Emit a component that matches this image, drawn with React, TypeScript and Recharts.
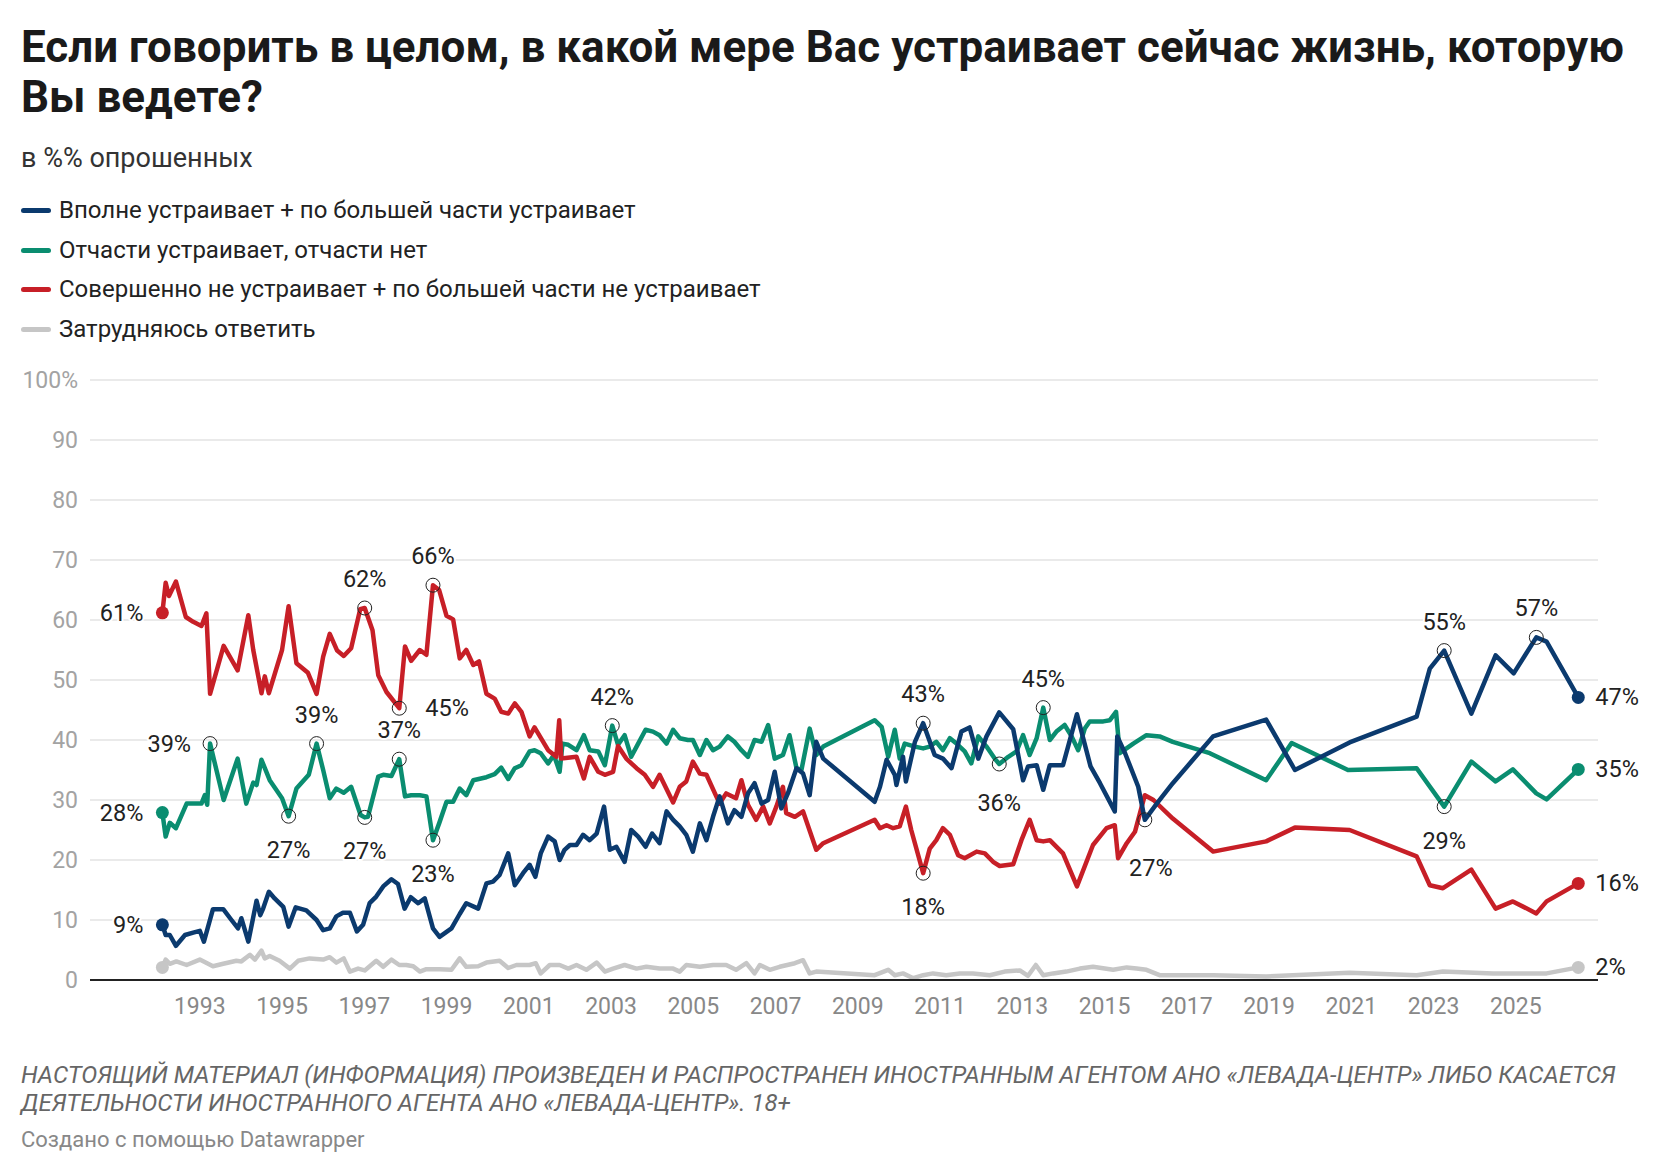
import React from "react";
import { LineChart, Line, XAxis, YAxis, CartesianGrid, ReferenceDot } from "recharts";

type Pt = [number, number];

const titleLines = [
  "Если говорить в целом, в какой мере Вас устраивает сейчас жизнь, которую",
  "Вы ведете?",
];
const subtitle = "в %% опрошенных";
const seriesNames = [
  "Вполне устраивает + по большей части устраивает",
  "Отчасти устраивает, отчасти нет",
  "Совершенно не устраивает + по большей части не устраивает",
  "Затрудняюсь ответить",
];
const footerLines = [
  "НАСТОЯЩИЙ МАТЕРИАЛ (ИНФОРМАЦИЯ) ПРОИЗВЕДЕН И РАСПРОСТРАНЕН ИНОСТРАННЫМ АГЕНТОМ АНО «ЛЕВАДА-ЦЕНТР» ЛИБО КАСАЕТСЯ",
  "ДЕЯТЕЛЬНОСТИ ИНОСТРАННОГО АГЕНТА АНО «ЛЕВАДА-ЦЕНТР». 18+",
];
const credit = "Создано с помощью Datawrapper";

const yearTicks = [1993, 1995, 1997, 1999, 2001, 2003, 2005, 2007, 2009, 2011, 2013, 2015, 2017, 2019, 2021, 2023, 2025];
const valueTicks = [0, 10, 20, 30, 40, 50, 60, 70, 80, 90, 100];

// [year position, %]
const satisfied: Pt[] = [
  [1992.09, 9.2], [1992.17, 7.5], [1992.27, 7.5], [1992.42, 5.7], [1992.64, 7.5], [1992.84, 7.9],
  [1993.0, 8.2], [1993.1, 6.4], [1993.32, 11.8], [1993.57, 11.8], [1993.77, 10], [1993.93, 8.6],
  [1994.01, 10.3], [1994.18, 6.4], [1994.38, 13.2], [1994.47, 10.8], [1994.54, 11.9], [1994.68, 14.7],
  [1994.82, 13.6], [1995.03, 12.2], [1995.16, 8.9], [1995.33, 12.1], [1995.59, 11.6], [1995.84, 10],
  [1996.0, 8.3], [1996.16, 8.6], [1996.32, 10.6], [1996.48, 11.2], [1996.65, 11.2], [1996.82, 8.1],
  [1996.97, 9.2], [1997.13, 12.8], [1997.29, 13.9], [1997.46, 15.6], [1997.66, 16.8], [1997.82, 16],
  [1997.98, 11.9], [1998.13, 13.8], [1998.31, 12.8], [1998.47, 13.6], [1998.67, 8.6], [1998.83, 7.2],
  [1999.12, 8.6], [1999.32, 11], [1999.48, 12.8], [1999.77, 11.9], [1999.97, 16.1], [2000.13, 16.4],
  [2000.29, 17.5], [2000.5, 21.1], [2000.66, 15.8], [2000.86, 17.8], [2001.02, 19.2], [2001.16, 17.2],
  [2001.29, 21.1], [2001.47, 23.9], [2001.63, 23.1], [2001.75, 20], [2001.87, 21.7], [2002.0, 22.5],
  [2002.16, 22.5], [2002.32, 24.2], [2002.48, 23.3], [2002.65, 24.4], [2002.83, 28.9], [2002.97, 21.7],
  [2003.13, 22.2], [2003.33, 19.7], [2003.49, 25], [2003.66, 23.9], [2003.84, 22.2], [2004.0, 24.4],
  [2004.18, 22.8], [2004.35, 28.1], [2004.51, 26.7], [2004.67, 25.6], [2004.83, 24.2], [2004.99, 21.4],
  [2005.16, 26.1], [2005.32, 23.3], [2005.48, 27.2], [2005.64, 30.6], [2005.84, 26.1], [2006.0, 28.3],
  [2006.17, 27.2], [2006.33, 31.1], [2006.49, 32.8], [2006.66, 29.4], [2006.82, 30], [2006.98, 34.7],
  [2007.14, 28.6], [2007.3, 31.1], [2007.51, 35.3], [2007.67, 34.4], [2007.83, 30.8], [2007.99, 39.7],
  [2008.16, 36.9], [2009.41, 29.7], [2009.54, 32.2], [2009.7, 36.7], [2009.9, 34.2], [2009.94, 32.5],
  [2010.1, 37.2], [2010.17, 33.1], [2010.39, 39.7], [2010.59, 42.8], [2010.87, 37.5], [2011.07, 36.9],
  [2011.28, 35.3], [2011.52, 41.4], [2011.72, 42.1], [2011.93, 36.9], [2012.13, 40.6], [2012.44, 44.6],
  [2012.78, 41.8], [2013.02, 33.3], [2013.14, 35.6], [2013.35, 35.8], [2013.51, 31.7], [2013.67, 35.8],
  [2013.99, 35.8], [2014.33, 44.3], [2014.66, 35.6], [2014.89, 32.8], [2015.25, 28.1], [2015.31, 40.6],
  [2015.5, 37.8], [2015.82, 32.2], [2015.98, 26.7], [2016.27, 29.4], [2016.66, 32.8], [2017.15, 36.7],
  [2017.64, 40.6], [2018.93, 43.4], [2019.63, 35], [2020.96, 39.6], [2022.59, 43.9], [2022.91, 51.9],
  [2023.26, 54.9], [2023.92, 44.4], [2024.51, 54.1], [2024.95, 51.1], [2025.5, 57.1], [2025.75, 56.4],
  [2026.52, 47.1],
];

const partly: Pt[] = [
  [1992.09, 27.9], [1992.17, 23.9], [1992.27, 26.2], [1992.42, 25.3], [1992.68, 29.4], [1993.04, 29.4],
  [1993.12, 30.8], [1993.18, 29.2], [1993.25, 39.4], [1993.58, 30], [1993.92, 36.9], [1994.13, 29.4],
  [1994.3, 32.9], [1994.38, 32.5], [1994.5, 36.7], [1994.7, 33.3], [1995.0, 30.3], [1995.16, 27.3],
  [1995.35, 31.9], [1995.65, 34.2], [1995.84, 39.4], [1996.0, 35], [1996.16, 30.3], [1996.32, 31.9],
  [1996.5, 31.2], [1996.68, 32.2], [1996.91, 27.5], [1997.01, 27.1], [1997.09, 27.2], [1997.34, 33.9],
  [1997.46, 34.2], [1997.66, 34], [1997.85, 36.8], [1997.99, 30.6], [1998.14, 30.8], [1998.35, 30.8],
  [1998.51, 30.6], [1998.67, 23.3], [1998.82, 26.1], [1999.0, 29.7], [1999.16, 29.7], [1999.32, 31.9],
  [1999.48, 30.8], [1999.65, 33.3], [1999.97, 33.8], [2000.17, 34.3], [2000.33, 35.4], [2000.5, 33.5],
  [2000.66, 35.3], [2000.82, 35.8], [2001.02, 38.1], [2001.14, 38.3], [2001.29, 37.8], [2001.47, 36.1],
  [2001.61, 37.5], [2001.75, 34.7], [2001.82, 39.4], [2001.96, 39.2], [2002.16, 38.3], [2002.34, 40.8],
  [2002.48, 38.3], [2002.69, 38.1], [2002.85, 35.8], [2003.03, 42.4], [2003.17, 39.2], [2003.33, 40.8],
  [2003.49, 37.2], [2003.66, 39.4], [2003.84, 41.7], [2004.02, 41.4], [2004.18, 40.8], [2004.35, 39.4],
  [2004.51, 41.7], [2004.67, 40.3], [2004.87, 40], [2004.99, 40], [2005.16, 37.5], [2005.32, 40],
  [2005.48, 38.3], [2005.64, 38.9], [2005.84, 40.6], [2006.0, 39.7], [2006.17, 38.3], [2006.33, 37.2],
  [2006.49, 40], [2006.66, 39.7], [2006.82, 42.5], [2006.98, 36.9], [2007.18, 37.5], [2007.34, 40.8],
  [2007.51, 35.3], [2007.63, 35], [2007.83, 41.9], [2007.99, 37.5], [2008.16, 38.9], [2009.41, 43.3],
  [2009.58, 42.2], [2009.74, 37.2], [2009.9, 41.7], [2010.02, 36.9], [2010.14, 39.4], [2010.39, 38.9],
  [2010.59, 38.6], [2010.75, 38.9], [2010.91, 39.7], [2011.07, 38.3], [2011.24, 40.3], [2011.4, 39.4],
  [2011.6, 38.1], [2011.76, 36.1], [2011.93, 40.6], [2012.13, 38.9], [2012.33, 36.9], [2012.44, 36],
  [2012.66, 37.2], [2012.86, 38.1], [2013.02, 40.8], [2013.18, 37.5], [2013.35, 40.3], [2013.51, 45.4],
  [2013.67, 40], [2013.83, 41.4], [2014.03, 42.5], [2014.2, 40.6], [2014.36, 38.3], [2014.52, 41.9],
  [2014.64, 43.1], [2014.97, 43.1], [2015.13, 43.3], [2015.28, 44.7], [2015.37, 37.8], [2015.7, 39.4],
  [2016.02, 40.8], [2016.34, 40.6], [2016.66, 39.7], [2017.56, 37.8], [2018.93, 33.3], [2019.55, 39.5],
  [2020.92, 35], [2022.59, 35.3], [2023.26, 28.9], [2023.92, 36.4], [2024.51, 33.1], [2024.93, 35.1],
  [2025.5, 31.1], [2025.75, 30.1], [2026.52, 35.1],
];

const dissatisfied: Pt[] = [
  [1992.09, 61.2], [1992.17, 66.2], [1992.25, 64], [1992.42, 66.4], [1992.66, 60.5], [1992.84, 59.7],
  [1993.04, 59], [1993.16, 61.1], [1993.25, 47.7], [1993.58, 55.7], [1993.92, 51.6], [1994.18, 60.8],
  [1994.3, 55], [1994.5, 47.8], [1994.58, 50.6], [1994.68, 47.8], [1995.0, 55], [1995.16, 62.3],
  [1995.35, 52.8], [1995.63, 51.2], [1995.84, 47.7], [1996.0, 53.9], [1996.16, 57.7], [1996.34, 54.9],
  [1996.5, 54], [1996.68, 55.3], [1996.9, 61.8], [1997.01, 62], [1997.2, 58.3], [1997.34, 50.8],
  [1997.54, 48], [1997.85, 45.3], [1997.99, 55.6], [1998.14, 53.2], [1998.35, 55], [1998.51, 54.2],
  [1998.67, 65.8], [1998.82, 65], [1999.0, 60.7], [1999.16, 60.1], [1999.32, 53.6], [1999.48, 55],
  [1999.65, 52.5], [1999.79, 53.1], [1999.97, 47.7], [2000.17, 46.9], [2000.33, 44.7], [2000.5, 44.4],
  [2000.66, 46.1], [2000.82, 44.7], [2001.02, 40.6], [2001.14, 42.1], [2001.47, 38.3], [2001.67, 37.2],
  [2001.74, 43.3], [2001.79, 36.9], [2002.16, 37.2], [2002.34, 33.6], [2002.48, 37.2], [2002.69, 34.7],
  [2002.85, 34.2], [2003.05, 34.7], [2003.17, 39], [2003.37, 36.9], [2003.62, 35.3], [2003.82, 34.2],
  [2004.02, 32.2], [2004.18, 34.2], [2004.51, 29.6], [2004.67, 32.2], [2004.83, 33.1], [2004.99, 36.4],
  [2005.16, 34.4], [2005.32, 34.2], [2005.64, 29.4], [2005.8, 31.1], [2006.04, 30.3], [2006.17, 33.3],
  [2006.33, 29.2], [2006.53, 26.7], [2006.7, 28.9], [2006.86, 26.1], [2007.02, 28.9], [2007.18, 32.2],
  [2007.26, 27.8], [2007.47, 27.2], [2007.67, 28.1], [2007.99, 21.7], [2008.16, 22.8], [2009.41, 26.7],
  [2009.54, 25.3], [2009.7, 25.8], [2009.86, 25.3], [2010.02, 25.6], [2010.17, 28.9], [2010.3, 25],
  [2010.59, 17.8], [2010.75, 21.9], [2010.91, 23.3], [2011.07, 25.3], [2011.24, 24.2], [2011.44, 20.8],
  [2011.6, 20.3], [2011.89, 21.4], [2012.09, 21.1], [2012.29, 19.7], [2012.45, 19], [2012.78, 19.3],
  [2012.98, 23.3], [2013.18, 26.7], [2013.35, 23.3], [2013.51, 23.1], [2013.67, 23.3], [2013.99, 21.1],
  [2014.33, 15.6], [2014.72, 22.5], [2015.05, 25.3], [2015.25, 25.8], [2015.33, 20.3], [2015.54, 22.8],
  [2015.74, 24.7], [2015.98, 30.8], [2016.19, 30], [2016.66, 26.9], [2017.64, 21.4], [2018.93, 23.1],
  [2019.63, 25.4], [2020.96, 25], [2022.59, 20.6], [2022.91, 15.8], [2023.23, 15.3], [2023.92, 18.4],
  [2024.51, 11.9], [2024.93, 13.1], [2025.5, 11.1], [2025.75, 13.1], [2026.52, 16.1],
];

const hardToSay: Pt[] = [
  [1992.09, 2.1], [1992.17, 3.4], [1992.27, 2.7], [1992.43, 3.1], [1992.68, 2.5], [1993.0, 3.4],
  [1993.32, 2.3], [1993.57, 2.7], [1993.89, 3.2], [1994.01, 3.1], [1994.22, 4.2], [1994.34, 3.4],
  [1994.5, 4.9], [1994.58, 3.6], [1994.7, 4], [1994.94, 3.2], [1995.19, 1.9], [1995.39, 3.2],
  [1995.67, 3.6], [1996.0, 3.4], [1996.16, 3.8], [1996.32, 2.9], [1996.5, 3.6], [1996.65, 1.4],
  [1996.85, 1.9], [1997.01, 1.6], [1997.29, 3.2], [1997.46, 2.2], [1997.66, 3.4], [1997.85, 2.5],
  [1998.02, 2.5], [1998.19, 2.3], [1998.35, 1.4], [1998.51, 1.8], [1998.83, 1.8], [1999.12, 1.7],
  [1999.32, 3.6], [1999.48, 2.2], [1999.77, 2.3], [1999.97, 2.9], [2000.29, 3.2], [2000.5, 2],
  [2000.7, 2.5], [2001.02, 2.5], [2001.17, 2.8], [2001.29, 1.1], [2001.51, 2.5], [2001.75, 2.5],
  [2001.96, 1.9], [2002.16, 2.5], [2002.4, 1.7], [2002.65, 2.9], [2002.85, 1.4], [2003.05, 1.9],
  [2003.33, 2.5], [2003.62, 1.9], [2003.86, 2.2], [2004.18, 1.9], [2004.51, 1.9], [2004.67, 1.4],
  [2004.83, 2.5], [2005.16, 2.2], [2005.48, 2.5], [2005.8, 2.5], [2006.04, 1.7], [2006.29, 2.8],
  [2006.49, 1.1], [2006.62, 2.5], [2006.86, 1.7], [2007.1, 2.2], [2007.47, 2.8], [2007.67, 3.3],
  [2007.83, 1.1], [2007.99, 1.4], [2009.41, 0.8], [2009.74, 1.7], [2009.9, 0.8], [2010.1, 1.1],
  [2010.35, 0.3], [2010.59, 0.8], [2010.83, 1.1], [2011.15, 0.8], [2011.48, 1.1], [2011.8, 1.1],
  [2012.21, 0.8], [2012.57, 1.4], [2012.94, 1.6], [2013.14, 0.7], [2013.33, 2.5], [2013.51, 0.8],
  [2013.75, 1.1], [2014.07, 1.4], [2014.4, 1.9], [2014.72, 2.2], [2015.21, 1.7], [2015.54, 2.1],
  [2015.78, 1.9], [2016.02, 1.7], [2016.34, 0.8], [2016.66, 0.8], [2017.64, 0.8], [2018.93, 0.6],
  [2020.96, 1.2], [2022.59, 0.8], [2023.23, 1.4], [2024.45, 1.1], [2025.75, 1.1], [2026.52, 2.1],
];

// highlighted survey points (year positions) and where their label sits
const satisfiedNotes = [2010.59, 2015.98, 2023.26, 2025.5];
const satisfiedNoteSides = ["above", "belowRight", "above", "above"];
const partlyNotes = [1993.25, 1995.16, 1995.84, 1997.01, 1997.85, 1998.67, 2003.03, 2012.44, 2013.51, 2023.26];
const partlyNoteSides = ["left", "below", "above", "below", "above", "below", "above", "belowFar", "above", "below"];
const dissatisfiedNotes = [1997.01, 1997.85, 1998.67, 2010.59];
const dissatisfiedNoteSides = ["above", "right", "above", "below"];

const COLORS = ["#0b3a6e", "#0a8d70", "#c71f27", "#c6c6c6"];
const FONT = "Roboto, 'Noto Sans', sans-serif";

const seriesList: Pt[][] = [satisfied, partly, dissatisfied, hardToSay];
const notesList = [satisfiedNotes, partlyNotes, dissatisfiedNotes, [] as number[]];
const sidesList = [satisfiedNoteSides, partlyNoteSides, dissatisfiedNoteSides, [] as string[]];
const showStartLabel = [true, true, true, false];

const toRows = (s: Pt[]) => s.map(([x, v]) => ({ x, v }));
const pct = (v: number) => `${Math.round(v)}%`;

const OFFSETS: Record<string, { dx: number; dy: number; anchor: "start" | "middle" | "end" }> = {
  above: { dx: 0, dy: -29, anchor: "middle" },
  below: { dx: 0, dy: 34, anchor: "middle" },
  belowFar: { dx: 0, dy: 39, anchor: "middle" },
  belowRight: { dx: 6, dy: 48, anchor: "middle" },
  left: { dx: -19, dy: 0, anchor: "end" },
  right: { dx: 26, dy: 0, anchor: "start" },
  endRight: { dx: 17, dy: 0, anchor: "start" },
};

const labelStyle: React.CSSProperties = {
  fontFamily: FONT,
  fontSize: 23.5,
  fill: "#222",
  stroke: "#fff",
  strokeWidth: 4,
  paintOrder: "stroke",
  strokeLinejoin: "round",
};

const makeMarker =
  (text: string, side: string, filled: string | null) =>
  (p: any) => {
    const o = OFFSETS[side];
    return (
      <g>
        {filled ? (
          <circle cx={p.cx} cy={p.cy} r={6.5} fill={filled} stroke="none" />
        ) : (
          <circle cx={p.cx} cy={p.cy} r={7} fill="none" stroke="#222" strokeWidth={1} />
        )}
        <text x={p.cx + o.dx} y={p.cy + o.dy} textAnchor={o.anchor} dominantBaseline="central" style={labelStyle}>
          {text}
        </text>
      </g>
    );
  };

const YTick = (props: any) => {
  const v = props.payload.value;
  return (
    <text x={props.x} y={props.y} textAnchor="end" dominantBaseline="central" fill="#a3a3a3" fontSize={23} fontFamily={FONT}>
      {v === 100 ? "100%" : String(v)}
    </text>
  );
};

export default function App() {
  const markers: React.ReactNode[] = [];
  seriesList.forEach((s, i) => {
    notesList[i].forEach((yr, j) => {
      const pt = s.find((q) => q[0] === yr);
      if (!pt) return;
      markers.push(
        <ReferenceDot key={`n${i}-${j}`} x={pt[0]} y={pt[1]} r={7} ifOverflow="visible" shape={makeMarker(pct(pt[1]), sidesList[i][j], null)} />
      );
    });
    const first = s[0];
    const last = s[s.length - 1];
    markers.push(
      <ReferenceDot key={`s${i}`} x={first[0]} y={first[1]} r={6.5} ifOverflow="visible" shape={makeMarker(showStartLabel[i] ? pct(first[1]) : "", "left", COLORS[i])} />
    );
    markers.push(
      <ReferenceDot key={`e${i}`} x={last[0]} y={last[1]} r={6.5} ifOverflow="visible" shape={makeMarker(pct(last[1]), "endRight", COLORS[i])} />
    );
  });

  const lineOrder = [3, 1, 2, 0];

  return (
    <div style={{ position: "relative", width: 1660, height: 1174, background: "#fff", fontFamily: FONT, overflow: "hidden" }}>
      <style>{`body{margin:0;}`}</style>
      <div style={{ position: "absolute", left: 0, top: 0 }}>
        <LineChart width={1660} height={1060} margin={{ top: 380, right: 62, bottom: 40, left: 20 }}>
          <CartesianGrid vertical={false} stroke="#e3e3e3" strokeWidth={1.5} />
          <XAxis
            type="number"
            dataKey="x"
            domain={[1990.33, 2027]}
            ticks={yearTicks}
            interval={0}
            allowDataOverflow
            tickLine={false}
            axisLine={{ stroke: "#222", strokeWidth: 2 }}
            tick={{ fill: "#888", fontSize: 23, fontFamily: FONT }}
            tickMargin={12}
            height={40}
          />
          <YAxis
            type="number"
            domain={[0, 100]}
            ticks={valueTicks}
            interval={0}
            width={70}
            axisLine={false}
            tickLine={false}
            tickMargin={6}
            tick={<YTick />}
          />
          {lineOrder.map((i) => (
            <Line
              key={i}
              data={toRows(seriesList[i])}
              dataKey="v"
              type="linear"
              stroke={COLORS[i]}
              strokeWidth={4.5}
              strokeLinejoin="round"
              strokeLinecap="round"
              dot={false}
              activeDot={false}
              isAnimationActive={false}
              name={seriesNames[i]}
            />
          ))}
          {markers}
        </LineChart>
      </div>

      <div style={{ position: "absolute", left: 21, top: 22, fontSize: 44, lineHeight: "50px", fontWeight: 700, color: "#1a1a1a", whiteSpace: "nowrap" }}>
        {titleLines.map((t, i) => (
          <div key={i}>{t}</div>
        ))}
      </div>
      <div style={{ position: "absolute", left: 21, top: 142, fontSize: 27, lineHeight: "32px", color: "#333", whiteSpace: "nowrap" }}>
        {subtitle}
      </div>
      {seriesNames.map((n, i) => (
        <div
          key={n}
          style={{ position: "absolute", left: 21, top: [196, 236, 275, 315][i], height: 28, display: "flex", alignItems: "center", whiteSpace: "nowrap" }}
        >
          <span style={{ display: "inline-block", width: 30, height: 5, borderRadius: 3, background: COLORS[i], marginRight: 8 }} />
          <span style={{ fontSize: 24, lineHeight: "28px", color: "#222" }}>{n}</span>
        </div>
      ))}
      <div style={{ position: "absolute", left: 21, top: 1061, fontSize: 24, lineHeight: "28px", fontStyle: "italic", color: "#666", whiteSpace: "nowrap" }}>
        {footerLines.map((t, i) => (
          <div key={i}>{t}</div>
        ))}
      </div>
      <div style={{ position: "absolute", left: 21, top: 1127, fontSize: 22, lineHeight: "26px", color: "#888", whiteSpace: "nowrap" }}>
        {credit}
      </div>
    </div>
  );
}
